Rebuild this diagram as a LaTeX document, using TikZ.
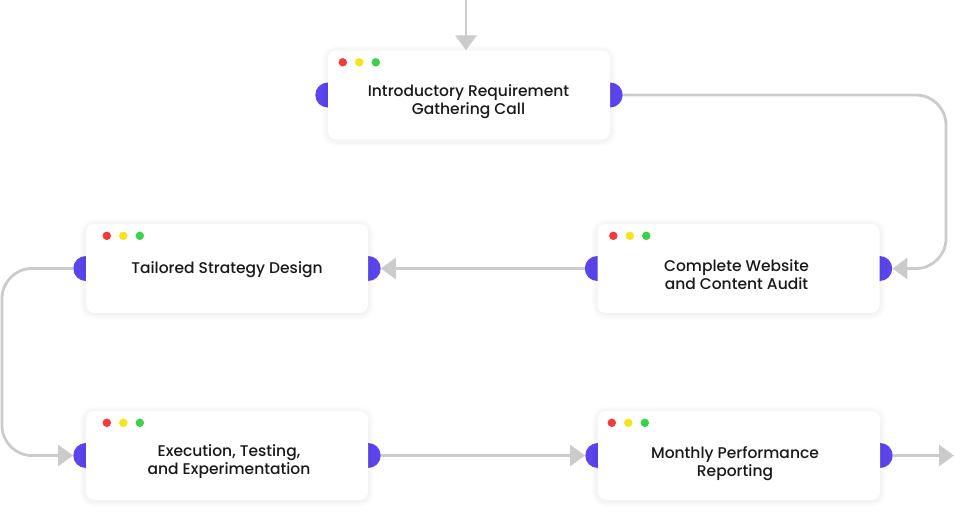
\documentclass[tikz,border=0pt]{standalone}
\usepackage{fontspec}
\setmainfont{Poppins}[UprightFont={* Medium}]
\usetikzlibrary{arrows.meta,shadows.blur,calc}
\pgfdeclarelayer{ports}
\pgfsetlayers{ports,main}
\definecolor{portblue}{HTML}{5B45EE}
\definecolor{linegray}{HTML}{CBCBCB}
\definecolor{dotred}{HTML}{F23B3B}
\definecolor{dotyellow}{HTML}{F3E41E}
\definecolor{dotgreen}{HTML}{3DD04A}
\tikzset{
  card/.style={draw=none, fill=white, rounded corners=8pt, minimum width=282pt, minimum height=89pt,
    blur shadow={shadow blur steps=14, shadow xshift=0pt, shadow yshift=-1pt, shadow opacity=10, shadow blur radius=7pt, shadow blur extra rounding=6pt}},
  cardtext/.style={align=center, font=\fontsize{15.5}{18}\selectfont, text=black!90},
  port/.style={circle, fill=portblue, minimum size=25pt, inner sep=0pt},
  tip/.style={-{Triangle[length=15pt,width=21pt]}, draw=linegray, line width=2.8pt},
  wdot/.style={circle, inner sep=0pt, minimum size=8.5pt}
}
\newcommand{\winddots}[2]{%
  \node[wdot, fill=dotred] (#1d1) at ($(#1.north west)+(#2,12)$) {};
  \node[wdot, fill=dotyellow] (#1d2) at ($(#1.north west)+(#2+16.5,12)$) {};
  \node[wdot, fill=dotgreen] (#1d3) at ($(#1.north west)+(#2+33,12)$) {};
}
\begin{document}
\begin{tikzpicture}[x=1pt,y=-1pt]
\useasboundingbox (0,0) rectangle (954,522);
% cards
\node[card] (b1) at (469,95) {};
\node[card] (b2) at (738.5,268.5) {};
\node[card] (b3) at (227,268.5) {};
\node[card] (b4) at (227,455.5) {};
\node[card] (b5) at (739,455.5) {};
% texts
\node[cardtext] (t1) at (468.5,101.5) {Introductory Requirement\\Gathering Call};
\node[cardtext] (t2) at (736.5,274.5) {Complete Website\\and Content Audit};
\node[cardtext] (t3) at (227,270) {Tailored Strategy Design};
\node[cardtext] (t4) at (229,461.5) {Execution, Testing,\\and Experimentation};
\node[cardtext] (t5) at (735,463.5) {Monthly Performance\\Reporting};
% window dots
\winddots{b1}{15}
\winddots{b2}{16}
\winddots{b3}{21}
\winddots{b4}{21}
\winddots{b5}{14}
% ports
\begin{pgfonlayer}{ports}
\node[port] (p1l) at (b1.west) {};
\node[port] (p1r) at (b1.east) {};
\node[port] (p2l) at (b2.west) {};
\node[port] (p2r) at (b2.east) {};
\node[port] (p3l) at (b3.west) {};
\node[port] (p3r) at (b3.east) {};
\node[port] (p4l) at (b4.west) {};
\node[port] (p4r) at (b4.east) {};
\node[port] (p5l) at (b5.west) {};
\node[port] (p5r) at (b5.east) {};
\end{pgfonlayer}
% connectors
\coordinate (top) at (466,-2);
\coordinate (rc) at (946,268.5);
\coordinate (lc) at (2,268.5);
\coordinate (endp) at (954,457);
\draw[tip] (top) -- (top |- b1.north);
\draw[tip, rounded corners=30pt] (p1r.east) -| (rc) -- (p2r.east);
\draw[tip] (p2l.west) -- (p3r.east);
\draw[tip, rounded corners=30pt] (p3l.west) -| (lc |- p4l.west) -- (p4l.west);
\draw[tip] (p4r.east) -- (p5l.west);
\draw[tip] (p5r.east) -- (p5r.east -| endp);
\end{tikzpicture}
\end{document}
